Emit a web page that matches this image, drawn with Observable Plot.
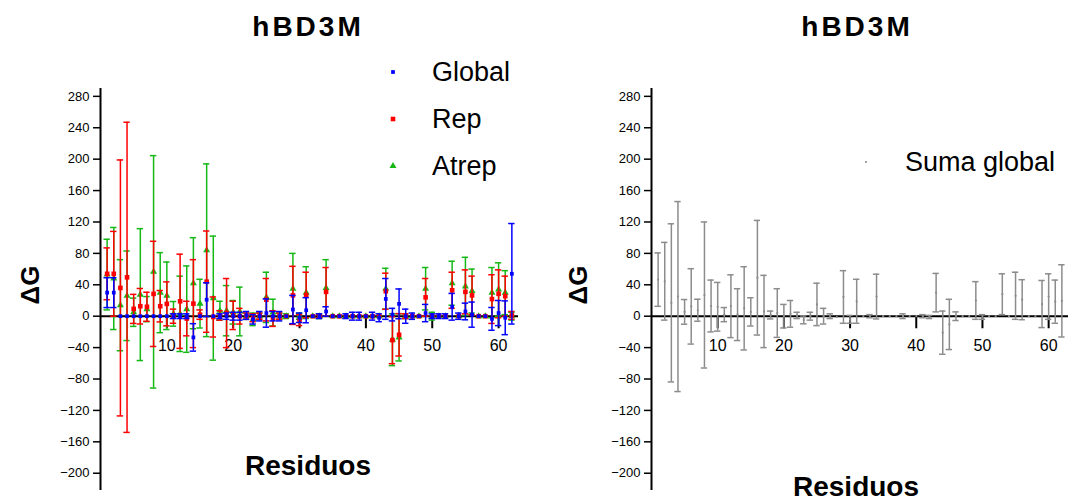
<!DOCTYPE html>
<html>
<head>
<meta charset="utf-8">
<script src="https://cdn.jsdelivr.net/npm/d3@7"></script>
<script src="https://cdn.jsdelivr.net/npm/@observablehq/plot@0.6"></script>
<style>
  html, body { margin: 0; padding: 0; background: #fff; }
  #wrap { position: relative; width: 1068px; height: 502px; overflow: hidden; font-family: "Liberation Sans", Arial, sans-serif; color: #000; }
  .panel { position: absolute; top: 0; width: 534px; height: 502px; }
  .lbl { position: absolute; white-space: nowrap; transform: translate(-50%, -50%); }
  .title { font-size: 28px; font-weight: bold; letter-spacing: 3px; }
  .xlab { font-size: 28px; font-weight: bold; }
  .ylab { font-size: 26px; font-weight: bold; transform: translate(-50%, -50%) rotate(-90deg); }
  .leg { position: absolute; font-size: 27px; transform: translateY(-50%); white-space: nowrap; }
  .mk { position: absolute; }
</style>
</head>
<body>
<div id="wrap">
  <div class="panel" id="left" style="left:0"></div>
  <div class="panel" id="right" style="left:534px"></div>
</div>
<script>
// ---- data ----
const residues = [1,2,3,4,5,6,7,8,9,10,11,12,13,14,15,16,17,18,19,20,21,22,23,24,25,26,27,28,29,30,31,32,33,34,35,36,37,38,39,40,41,42,43,44,45,46,47,48,49,50,51,52,53,54,55,56,57,58,59,60,61,62];

const globalVal = [30,30,0,0,0,0,0,0,0,0,0,0,0,-27,0,21,0,0,0,0,0,1,-4,0,4,0,0,0,8.5,-2,7.6,0,0,6,0,0,0,0,0,0,0,-2,22,2,15.7,0,0,0,4,0,0,0,12,0,6,2,0,0,-3.4,4,-2,54];
const globalErr = [19,19,0,0,0,0,0,0,0,0,3,3,3,17.5,0,21.5,0,3,4,5,5,5,6,6,18,6,6,0,18,6,16,0,3,6,0,0,3,5,5,0,5,5,26,8,19,9,4,0,11,3,3,3,17,4,10.6,16,0,0,14.5,16,21.5,64];

const repVal = [54,54,36,49.5,9.3,12.7,12,28.4,12.7,15.7,0,19,-3,16,2,44,-1,1,4,1,0,0,-2,0,21,-3,0,0,26.5,-5,27,0,0,31,0,0,0,0,0,0,0,0,31.8,-30.5,-23.7,0,0,0,24,0,0,0,33,0,31,26.5,0,0,21.8,28.5,25.5,1];
const repErr = [33,54,163,197.5,18.5,22.6,18.5,67,20,28,9,60,22,56,6,64.5,25.5,6,44,18,10,4,5,4,27,10,4,0,37,7,29,0,2,31,0,0,0,0,0,0,0,0,23,30,27,3,0,0,24,0,0,0,23,0,28,24.5,0,0,31,30.5,25.5,5];

const atrepVal = [53,48,14,26,5,27.5,9,56.5,30,26,3,3,9,42,16,84,23,7,7,5,6,0,-4,0,24,4.6,0,0,35,0,30,0,0,36,0,0,0,0,0,0,0,0,35,-30,-27,0,0,0,35,0,0,0,42,0,38,32,0,0,30,34,30,0];
const atrepErr = [45,65,58,57,18,84,16,148,51,43,15.7,48,55,58,31,110,79,12,32,15,31,4,8,4,32,17,4,3,45,4,33,0,3,36,0,0,0,0,0,0,0,0,26,33,30,3,0,0,27,5,0,0,28,0,37,28,0,0,32,34,28,5];

const sumaVal = [46.6,44.5,17,25,5.5,12.5,7.6,27,13,12,2,12.7,2,10,5.5,49,6,1.5,4,0,3,1,-4.7,0,15,0,0,-1,24.5,-4,19,0,0,25,0,0,0,0,0,0,0,-1,30,-21,-10.5,0,0,0,20,-1,0,0,28,0,26,21,0,0,15.5,25,18.5,19.5];
const sumaErr = [34,49.5,100.7,121,15.7,48,14,93,33,31,9,40,33,53,18,73,46,5,31,15,17,4,5,5,27,10,3,0,33.5,5,28,0,2,28.5,0,0,0,3,0,0,2,2,24.5,27.5,32,5.5,0,0,24,3,0,0,26,0,30,25.5,0,0,30,29,27.5,46];

const yTicks = [280,240,200,160,120,80,40,0,-40,-80,-120,-160,-200];
const xTicks = [10,20,30,40,50,60];

const seriesLeft = [
  {name: "Atrep", color: "#16b816", symbol: "triangle", r: 2.6, val: atrepVal, err: atrepErr},
  {name: "Rep", color: "#ff0000", symbol: "square", r: 2.6, val: repVal, err: repErr},
  {name: "Global", color: "#0000ff", symbol: "square", r: 2.1, val: globalVal, err: globalErr}
];
const seriesRight = [
  {name: "Suma global", color: "#8c8c8c", symbol: "circle", r: 1.1, val: sumaVal, err: sumaErr}
];

// ---- helpers ----
function rows(s) {
  return residues.map((r, i) => ({r, v: s.val[i], e: s.err[i]}));
}
function seriesMarks(s) {
  const data = rows(s);
  const bars = data.filter(d => d.e > 0);
  const sw = 1.5;
  return [
    Plot.ruleX(bars, {x: "r", y1: d => d.v - d.e, y2: d => d.v + d.e, stroke: s.color, strokeWidth: sw}),
    Plot.ruleY(bars, {y: d => d.v + d.e, x1: d => d.r - 0.48, x2: d => d.r + 0.48, stroke: s.color, strokeWidth: sw}),
    Plot.ruleY(bars, {y: d => d.v - d.e, x1: d => d.r - 0.48, x2: d => d.r + 0.48, stroke: s.color, strokeWidth: sw}),
    Plot.dot(data, {x: "r", y: "v", fill: s.color, stroke: "none", symbol: s.symbol, r: s.r})
  ];
}
function panel(series, marginLeft, marginRight) {
  return Plot.plot({
    width: 534,
    height: 502,
    marginLeft, marginRight,
    marginTop: 88,
    marginBottom: 12,
    style: {fontFamily: "Liberation Sans, Arial, sans-serif", color: "#000", background: "#fff", overflow: "visible"},
    x: {domain: [0, 63], axis: null, label: null},
    y: {domain: [-222, 290], axis: null, label: null},
    marks: [
      Plot.ruleY([0], {stroke: "#000", strokeWidth: 2}),
      Plot.ruleX(xTicks, {x: d => d, y1: 0, y2: -16, stroke: "#000", strokeWidth: 2}),
      Plot.text(xTicks, {x: d => d, y: 0, dy: 30, text: d => String(d), fontSize: 16, fill: "#000"}),
      ...series.flatMap(seriesMarks),
      Plot.ruleX([0], {stroke: "#000", strokeWidth: 2}),
      Plot.axisY(yTicks, {label: null, tickSize: 7, tickPadding: 4, fontSize: 13, stroke: "#000", strokeWidth: 1.5, fill: "#000"})
    ]
  });
}

document.getElementById("left").append(panel(seriesLeft, 100, 16));
document.getElementById("right").append(panel(seriesRight, 117, 0));

// ---- annotations (HTML text) ----
const wrap = document.getElementById("wrap");
function addLabel(cls, text, x, y) {
  const el = document.createElement("div");
  el.className = "lbl " + cls;
  el.textContent = text;
  el.style.left = x + "px";
  el.style.top = y + "px";
  wrap.append(el);
}
addLabel("title", "hBD3M", 308, 27);
addLabel("title", "hBD3M", 857, 27);
addLabel("xlab", "Residuos", 308, 466);
addLabel("xlab", "Residuos", 856, 487);
addLabel("ylab", "ΔG", 30, 285);
addLabel("ylab", "ΔG", 578, 285);

function addLegend(s, mx, tx, y) {
  const svgNS = "http://www.w3.org/2000/svg";
  const svg = document.createElementNS(svgNS, "svg");
  svg.setAttribute("width", 12); svg.setAttribute("height", 12);
  svg.setAttribute("class", "mk");
  svg.style.left = (mx - 6) + "px"; svg.style.top = (y - 6) + "px";
  const sym = {square: d3.symbolSquare, triangle: d3.symbolTriangle, circle: d3.symbolCircle}[s.symbol];
  const p = document.createElementNS(svgNS, "path");
  p.setAttribute("d", d3.symbol(sym, Math.PI * s.r * s.r)());
  p.setAttribute("transform", "translate(6,6)");
  p.setAttribute("fill", s.color);
  svg.append(p);
  wrap.append(svg);
  const t = document.createElement("div");
  t.className = "leg";
  t.textContent = s.name;
  t.style.left = tx + "px";
  t.style.top = y + "px";
  wrap.append(t);
}
addLegend(seriesLeft[2], 393, 432, 72);
addLegend(seriesLeft[1], 393, 432, 119);
addLegend(seriesLeft[0], 393, 432, 166);
addLegend(seriesRight[0], 866, 905, 162);
</script>
</body>
</html>
